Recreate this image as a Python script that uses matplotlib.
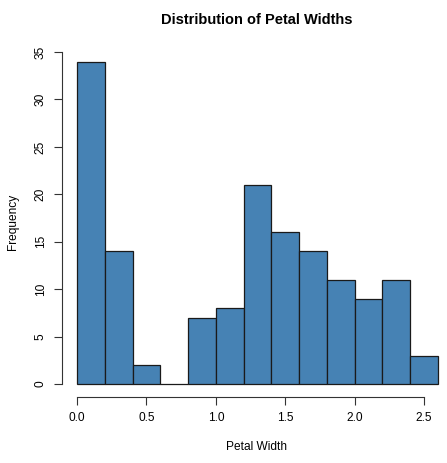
import matplotlib.pyplot as plt
import numpy as np

plt.rcParams['font.family'] = ['Liberation Sans', 'DejaVu Sans']

# histogram of petal widths, bins of 0.2
bin_edges = [0.0, 0.2, 0.4, 0.6, 0.8, 1.0, 1.2, 1.4, 1.6, 1.8, 2.0, 2.2, 2.4, 2.6]
counts = [34, 14, 2, 0, 7, 8, 21, 16, 14, 11, 9, 11, 3]
x_ticks = [0.0, 0.5, 1.0, 1.5, 2.0, 2.5]
x_tick_labels = ['0.0', '0.5', '1.0', '1.5', '2.0', '2.5']
y_ticks = [0, 5, 10, 15, 20, 25, 30, 35]

W, H = 447, 463
fig = plt.figure(figsize=(W / 100, H / 100), dpi=100)

# axes in pixel coordinates (left, bottom from top of image)
px_left, px_right = 62, 447
px_top, px_bottom = 48.6, 397
ax = fig.add_axes([px_left / W, 1 - px_bottom / H,
                   (px_right - px_left) / W, (px_bottom - px_top) / H])

scale_x = 138.8  # pixels per unit
ax.set_xlim(-(77 - px_left) / scale_x, (px_right - 77) / scale_x)
ax.set_ylim(-1.36, 35.36)

widths = np.diff(bin_edges)
ax.bar(bin_edges[:-1], counts, width=widths, align='edge',
       color='#4682B4', edgecolor='#1a1a1a', linewidth=0.9)

for s in ax.spines.values():
    s.set_visible(False)

ax.set_xticks(x_ticks)
ax.set_xticklabels(x_tick_labels, fontsize=8.6)
ax.set_yticks(y_ticks)
ax.set_yticklabels([str(v) for v in y_ticks], fontsize=8.6, rotation=90, va='center')
ax.tick_params(axis='both', direction='out', length=6, width=0.8, color='#333333', pad=5)

# R-style axis lines spanning only the tick range
ax.plot([x_ticks[0], x_ticks[-1]], [-1.36, -1.36], color='#333333', lw=0.8,
        clip_on=False)
ax.plot([ax.get_xlim()[0]] * 2, [0, 35], color='#333333', lw=0.8, clip_on=False)

fig.text(257 / W, 1 - 20 / H, 'Distribution of Petal Widths',
         ha='center', va='center', fontsize=10.5, fontweight='bold')
fig.text(257 / W, 1 - 447 / H, 'Petal Width', ha='center', va='center', fontsize=8.6)
fig.text(13 / W, 1 - 222 / H, 'Frequency', ha='center', va='center', fontsize=8.6,
         rotation=90)

fig.savefig('out.png', dpi=100)
